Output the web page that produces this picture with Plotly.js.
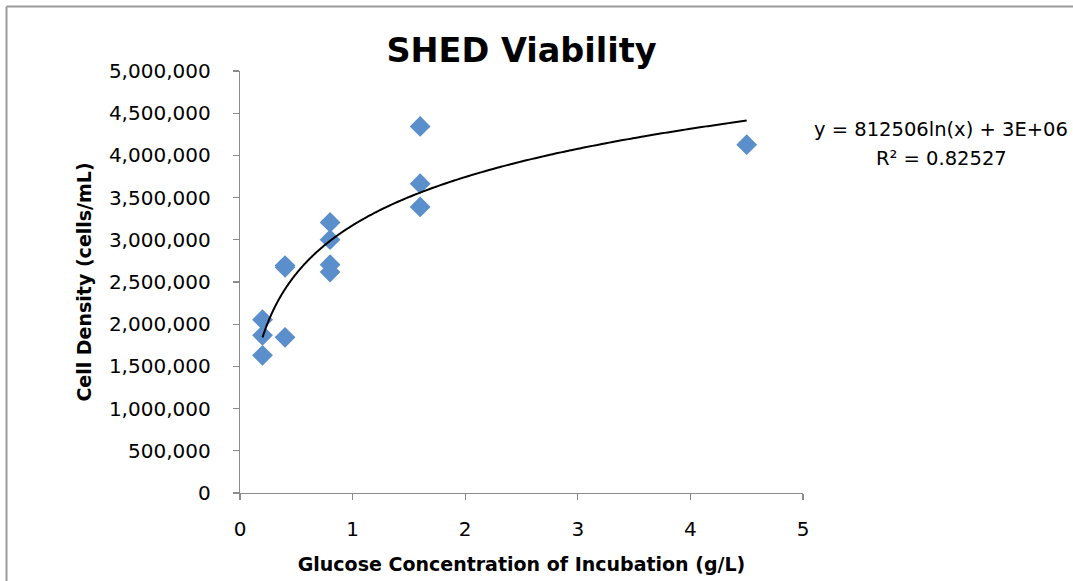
<!DOCTYPE html>
<html>
<head>
<meta charset="utf-8">
<script src="https://cdn.plot.ly/plotly-3.0.1.min.js"></script>
<style>
  html, body { margin: 0; padding: 0; background: #fff; }
  #chart { width: 1073px; height: 581px; }
</style>
</head>
<body>
<div id="chart"></div>
<script>
// Glucose concentration (g/L) for each measurement
const glucose = [0.2, 0.2, 0.2, 0.4, 0.4, 0.4, 0.8, 0.8, 0.8, 0.8, 1.6, 1.6, 1.6, 4.5];
// Cell density (cells/mL) for each measurement
const density = [2053000, 1868000, 1631000, 2695000, 2675000, 1844000, 3206000, 3001000, 2705000, 2618000, 4343000, 3665000, 3389000, 4127000];

const chartTitle = 'SHED Viability';
const xTitle = 'Glucose Concentration of Incubation (g/L)';
const yTitle = 'Cell Density (cells/mL)';
const equationLines = ['y = 812506ln(x) + 3E+06', 'R² = 0.82527'];

// Logarithmic least-squares trendline, fitted to the data above
const lnX = glucose.map(Math.log);
const n = lnX.length;
const mL = lnX.reduce((a, b) => a + b, 0) / n;
const mY = density.reduce((a, b) => a + b, 0) / n;
let sxx = 0, sxy = 0;
for (let i = 0; i < n; i++) { sxx += (lnX[i] - mL) ** 2; sxy += (lnX[i] - mL) * (density[i] - mY); }
const slope = sxy / sxx;
const intercept = mY - slope * mL;
const xMin = Math.min(...glucose), xMax = Math.max(...glucose);
const trendX = [], trendY = [];
for (let k = 0; k <= 300; k++) {
  const x = xMin * Math.pow(xMax / xMin, k / 300);
  trendX.push(x);
  trendY.push(slope * Math.log(x) + intercept);
}

const W = 1073, H = 581;
const M = { l: 240, r: 270, t: 71, b: 88 };
const pw = W - M.l - M.r, ph = H - M.t - M.b;
const px = v => (v - M.l) / pw;
const py = v => (H - M.b - v) / ph;

const FONT = 'DejaVu Sans, Verdana, sans-serif';
const AXCOL = '#8c8c8c';

const traces = [
  {
    x: glucose, y: density, type: 'scatter', mode: 'markers',
    marker: { symbol: 'diamond', size: 16, color: '#5a8fcb', line: { width: 0 } },
    hoverinfo: 'x+y', showlegend: false
  },
  {
    x: trendX, y: trendY, type: 'scatter', mode: 'lines',
    line: { color: '#000', width: 2, shape: 'spline' }, hoverinfo: 'skip', showlegend: false
  }
];

const layout = {
  width: W, height: H,
  margin: M,
  paper_bgcolor: '#fff', plot_bgcolor: '#fff',
  font: { family: FONT, color: '#000', size: 20 },
  title: {
    text: '<b>' + chartTitle + '</b>',
    font: { family: FONT, size: 33.5, color: '#000' },
    xref: 'paper', x: 0.5, xanchor: 'center',
    yref: 'container', y: 1 - 50 / H, yanchor: 'middle'
  },
  xaxis: {
    range: [0, 5], dtick: 1, tick0: 0,
    showgrid: false, zeroline: false,
    showline: true, linecolor: AXCOL, linewidth: 1.3,
    ticks: 'outside', ticklen: 6, tickcolor: AXCOL, tickwidth: 1.3,
    ticklabelstandoff: 12,
    tickfont: { family: FONT, size: 20, color: '#000' },
    title: { text: '<b>' + xTitle + '</b>', font: { family: FONT, size: 19, color: '#000' }, standoff: 17 },
    fixedrange: true
  },
  yaxis: {
    range: [0, 5000000], dtick: 500000, tick0: 0,
    tickformat: ',d',
    showgrid: false, zeroline: false,
    showline: true, linecolor: AXCOL, linewidth: 1.3,
    ticks: 'outside', ticklen: 6, tickcolor: AXCOL, tickwidth: 1.3,
    ticklabelstandoff: 18,
    tickfont: { family: FONT, size: 20, color: '#000' },
    title: { text: '<b>' + yTitle + '</b>', font: { family: FONT, size: 19, color: '#000' }, standoff: 12 },
    fixedrange: true
  },
  annotations: [
    {
      text: equationLines[0], xref: 'paper', yref: 'paper',
      x: px(941), y: py(129), xanchor: 'center', yanchor: 'middle',
      showarrow: false, font: { family: FONT, size: 19.5, color: '#000' }
    },
    {
      text: equationLines[1], xref: 'paper', yref: 'paper',
      x: px(941), y: py(158), xanchor: 'center', yanchor: 'middle',
      showarrow: false, font: { family: FONT, size: 19.5, color: '#000' }
    }
  ],
  shapes: [
    { type: 'line', xref: 'paper', yref: 'paper', x0: px(6.5), y0: py(6.5), x1: px(1073), y1: py(6.5), line: { color: '#9b9b9b', width: 2 } },
    { type: 'line', xref: 'paper', yref: 'paper', x0: px(6.5), y0: py(6.5), x1: px(6.5), y1: py(581), line: { color: '#9b9b9b', width: 2 } }
  ]
};

Plotly.newPlot('chart', traces, layout, { displayModeBar: false, staticPlot: true });
</script>
</body>
</html>
